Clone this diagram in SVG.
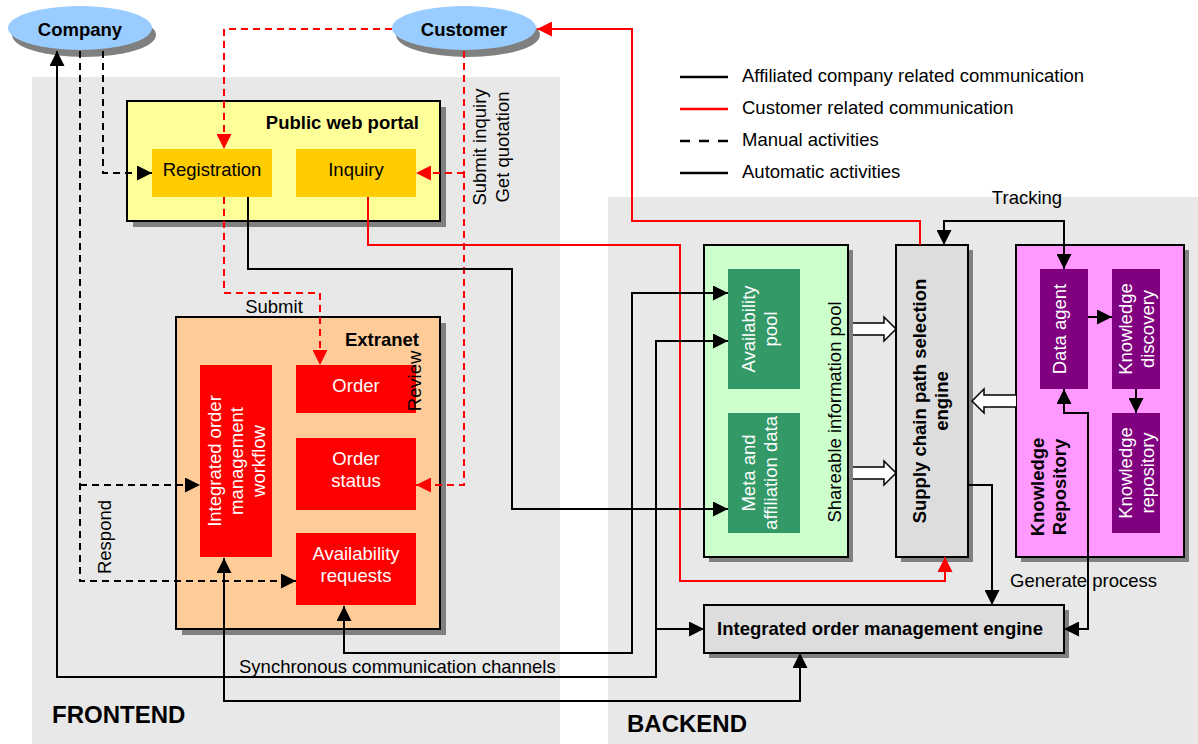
<svg xmlns="http://www.w3.org/2000/svg" width="1198" height="744" viewBox="0 0 1198 744">
  <style>
    .t { font-family: "Liberation Sans", Arial, sans-serif; font-size: 18.5px; fill: #000; }
    .b { font-weight: bold; }
    .big { font-size: 24px; }
    .w { fill: #fff; }
    .c { text-anchor: middle; }
    .e { text-anchor: end; }
    .panel { fill: #E8E8E8; }
    .sh { fill: #808080; }
    .fr { stroke: #000; stroke-width: 2; }
    .ln { fill: none; stroke: #000; stroke-width: 2; }
    .rd { stroke: #f00; }
    .ds { stroke-dasharray: 7 5; }
    .blk { fill: #fff; stroke: #000; stroke-width: 1.5; }
  </style>
  <defs>
    <marker id="ah" viewBox="0 0 15 15" refX="15" refY="7.5" markerWidth="15" markerHeight="15" markerUnits="userSpaceOnUse" orient="auto-start-reverse">
      <path d="M0,0L15,7.5L0,15z" fill="#000"/>
    </marker>
    <marker id="ahr" viewBox="0 0 15 15" refX="15" refY="7.5" markerWidth="15" markerHeight="15" markerUnits="userSpaceOnUse" orient="auto-start-reverse">
      <path d="M0,0L15,7.5L0,15z" fill="#f00"/>
    </marker>
  </defs>

  <rect width="1198" height="744" fill="#fff"/>

  <!-- tier panels -->
  <g id="frontend">
    <rect class="panel" x="32" y="77" width="528" height="667"/>
    <text class="t b big" x="52" y="723">FRONTEND</text>
  </g>
  <g id="backend">
    <rect class="panel" x="608" y="197" width="590" height="547"/>
    <text class="t b big" x="627" y="732">BACKEND</text>
  </g>

  <!-- legend -->
  <g id="legend">
    <line x1="680" y1="77" x2="728" y2="77" stroke="#000" stroke-width="2.5"/>
    <line x1="680" y1="109" x2="728" y2="109" stroke="#f00" stroke-width="2.5"/>
    <line x1="680" y1="141" x2="728" y2="141" stroke="#000" stroke-width="2.5" stroke-dasharray="10 9"/>
    <line x1="680" y1="173" x2="728" y2="173" stroke="#000" stroke-width="2.5"/>
    <text class="t" x="742" y="82">Affiliated company related communication</text>
    <text class="t" x="742" y="114">Customer related communication</text>
    <text class="t" x="742" y="146">Manual activities</text>
    <text class="t" x="742" y="178">Automatic activities</text>
  </g>

  <!-- actors -->
  <g id="company">
    <ellipse class="sh" cx="84" cy="35" rx="72" ry="22"/>
    <ellipse cx="80" cy="28" rx="72" ry="22" fill="#99CCFF"/>
    <text class="t b c" x="80" y="36">Company</text>
  </g>
  <g id="customer">
    <ellipse class="sh" cx="468" cy="35" rx="72" ry="22"/>
    <ellipse cx="464" cy="28" rx="72" ry="22" fill="#99CCFF"/>
    <text class="t b c" x="464" y="36">Customer</text>
  </g>

  <!-- public web portal -->
  <g id="portal">
    <rect class="sh" x="133" y="107" width="313" height="120"/>
    <rect class="fr" x="127" y="101" width="313" height="120" fill="#FFFF99"/>
    <text class="t b e" x="419" y="129">Public web portal</text>
  </g>
  <g id="registration">
    <rect x="152" y="149" width="120" height="48" fill="#FFCC00"/>
    <text class="t c" x="212" y="176">Registration</text>
  </g>
  <g id="inquiry">
    <rect x="296" y="149" width="120" height="48" fill="#FFCC00"/>
    <text class="t c" x="356" y="176">Inquiry</text>
  </g>

  <!-- extranet -->
  <g id="extranet">
    <rect class="sh" x="182" y="323" width="264" height="312"/>
    <rect class="fr" x="176" y="317" width="264" height="312" fill="#FFCC99"/>
    <text class="t b e" x="419" y="346">Extranet</text>
  </g>
  <g id="workflow">
    <rect x="200" y="365" width="72" height="192" fill="#f00"/>
    <text class="t w c" transform="translate(221,461) rotate(-90)">Integrated order</text>
    <text class="t w c" transform="translate(243,461) rotate(-90)">management</text>
    <text class="t w c" transform="translate(265,461) rotate(-90)">workflow</text>
  </g>
  <g id="order">
    <rect x="296" y="365" width="120" height="48" fill="#f00"/>
    <text class="t w c" x="356" y="392">Order</text>
  </g>
  <g id="order-status">
    <rect x="296" y="438" width="120" height="72" fill="#f00"/>
    <text class="t w c" x="356" y="465">Order</text>
    <text class="t w c" x="356" y="487">status</text>
  </g>
  <g id="availability-requests">
    <rect x="296" y="533" width="120" height="72" fill="#f00"/>
    <text class="t w c" x="356" y="560">Availability</text>
    <text class="t w c" x="356" y="582">requests</text>
  </g>

  <!-- shareable information pool -->
  <g id="info-pool">
    <rect class="sh" x="709" y="250" width="144" height="312"/>
    <rect class="fr" x="704" y="245" width="144" height="312" fill="#CCFFCC"/>
    <text class="t c" transform="translate(841,412) rotate(-90)">Shareable information pool</text>
  </g>
  <g id="availability-pool">
    <rect x="728" y="269" width="72" height="120" fill="#339966"/>
    <text class="t w c" transform="translate(755,329) rotate(-90)">Availability</text>
    <text class="t w c" transform="translate(777,329) rotate(-90)">pool</text>
  </g>
  <g id="meta-data">
    <rect x="728" y="413" width="72" height="120" fill="#339966"/>
    <text class="t w c" transform="translate(755,473) rotate(-90)">Meta and</text>
    <text class="t w c" transform="translate(777,473) rotate(-90)">affiliation data</text>
  </g>

  <!-- selection engine -->
  <g id="selection-engine">
    <rect class="sh" x="901" y="250" width="72" height="312"/>
    <rect class="fr" x="896" y="245" width="72" height="312" fill="#DDDDDD"/>
    <text class="t b c" transform="translate(926,401) rotate(-90)">Supply chain path selection</text>
    <text class="t b c" transform="translate(948,401) rotate(-90)">engine</text>
  </g>

  <!-- knowledge repository -->
  <g id="knowledge">
    <rect class="sh" x="1021" y="250" width="168" height="312"/>
    <rect class="fr" x="1016" y="245" width="168" height="312" fill="#FF99FF"/>
    <text class="t b c" transform="translate(1044,487) rotate(-90)">Knowledge</text>
    <text class="t b c" transform="translate(1066,487) rotate(-90)">Repository</text>
  </g>
  <g id="data-agent">
    <rect x="1040" y="269" width="48" height="120" fill="#800080"/>
    <text class="t w c" transform="translate(1066,329) rotate(-90)">Data agent</text>
  </g>
  <g id="knowledge-discovery">
    <rect x="1112" y="269" width="48" height="120" fill="#800080"/>
    <text class="t w c" transform="translate(1132,329) rotate(-90)">Knowledge</text>
    <text class="t w c" transform="translate(1154,329) rotate(-90)">discovery</text>
  </g>
  <g id="knowledge-store">
    <rect x="1112" y="413" width="48" height="120" fill="#800080"/>
    <text class="t w c" transform="translate(1132,473) rotate(-90)">Knowledge</text>
    <text class="t w c" transform="translate(1154,473) rotate(-90)">repository</text>
  </g>

  <!-- order management engine -->
  <g id="oms-engine">
    <rect class="sh" x="709" y="610" width="360" height="48"/>
    <rect class="fr" x="704" y="605" width="360" height="48" fill="#DDDDDD"/>
    <text class="t b c" x="880" y="635">Integrated order management engine</text>
  </g>

  <!-- connectors -->
  <g id="connectors">
    <!-- company, manual -->
    <path class="ln ds" d="M103,51 V173 H152" marker-end="url(#ah)"/>
    <path class="ln ds" d="M80,51 V581 H296" marker-end="url(#ah)"/>
    <path class="ln ds" d="M80,485 H200" marker-end="url(#ah)"/>

    <!-- customer, manual -->
    <path class="ln rd ds" d="M392,29 H224 V149" marker-end="url(#ahr)"/>
    <path class="ln rd ds" d="M224,197 V293 H320 V365" marker-end="url(#ahr)"/>
    <path class="ln rd ds" d="M464,51 V485 H416" marker-end="url(#ahr)"/>
    <path class="ln rd ds" d="M464,173 H416" marker-end="url(#ahr)"/>

    <!-- customer, automatic -->
    <path class="ln rd" d="M368,197 V245 H680 V581 H945 V557" marker-end="url(#ahr)"/>
    <path class="ln rd" d="M920,245 V221 H632 V29 H537" marker-end="url(#ahr)"/>

    <!-- affiliated company, automatic -->
    <path class="ln" d="M248,197 V269 H512 V509 H728" marker-end="url(#ah)"/>
    <path class="ln" d="M728,293 H632 V653 H344 V606" marker-start="url(#ah)" marker-end="url(#ah)"/>
    <path class="ln" d="M728,341 H656 V677 H57 V51" marker-start="url(#ah)" marker-end="url(#ah)"/>
    <path class="ln" d="M656,629 H704" marker-end="url(#ah)"/>
    <path class="ln" d="M224,558 V701 H800 V653" marker-start="url(#ah)" marker-end="url(#ah)"/>

    <!-- backend -->
    <path class="ln" d="M944,245 V221 H1064 V269" marker-start="url(#ah)" marker-end="url(#ah)"/>
    <path class="ln" d="M1088,317 H1112" marker-end="url(#ah)"/>
    <path class="ln" d="M1136,389 V413" marker-end="url(#ah)"/>
    <path class="ln" d="M1064,389 V413 H1088 V629 H1064" marker-start="url(#ah)" marker-end="url(#ah)"/>
    <path class="ln" d="M968,485 H992 V605" marker-end="url(#ah)"/>

    <!-- hollow transfer arrows -->
    <path class="blk" d="M853,323 H884 V317 L896,329 L884,341 V335 H853"/>
    <path class="blk" d="M853,467 H884 V461 L896,473 L884,485 V479 H853"/>
    <path class="blk" d="M1016,395 H984 V389 L972,401 L984,413 V407 H1016"/>

    <!-- labels -->
    <text class="t c" transform="translate(486,147) rotate(-90)">Submit inquiry</text>
    <text class="t c" transform="translate(509,147) rotate(-90)">Get quotation</text>
    <text class="t c" x="274" y="313">Submit</text>
    <text class="t c" transform="translate(421,381) rotate(-90)">Review</text>
    <text class="t c" transform="translate(111,537) rotate(-90)">Respond</text>
    <text class="t" x="239" y="673">Synchronous communication channels</text>
    <text class="t c" x="1027" y="204">Tracking</text>
    <text class="t" x="1010" y="587">Generate process</text>
  </g>
</svg>
